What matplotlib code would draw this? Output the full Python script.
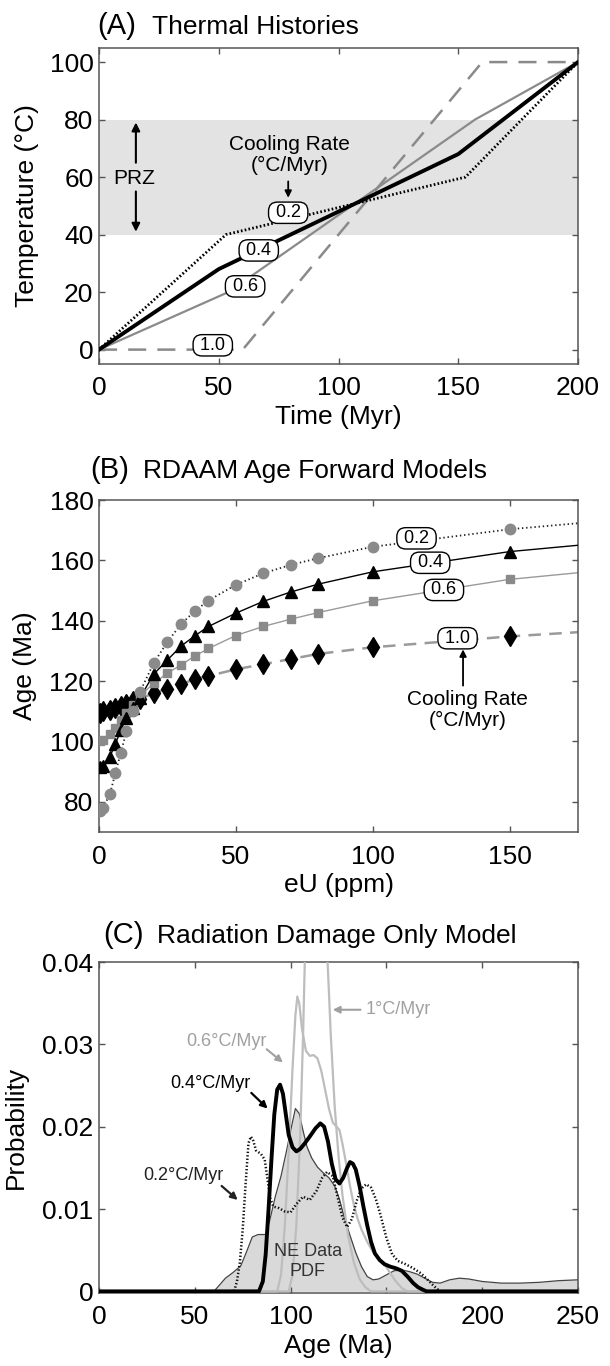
import matplotlib
matplotlib.use("Agg")
import matplotlib.pyplot as plt

plt.rcParams['font.family'] = ['Liberation Sans', 'DejaVu Sans']
plt.rcParams['lines.scale_dashes'] = False

# ---------------- Panel A data ----------------
time_02 = [0, 53, 153, 200]; temp_02 = [0, 40, 60, 100]
time_04 = [0, 50, 150, 200]; temp_04 = [0, 28, 68, 100]
time_06 = [0, 54, 157, 200]; temp_06 = [0, 20, 80, 100]
time_10 = [0, 60, 160, 200]; temp_10 = [0, 0, 100, 100]
prz_band = [40, 80]

# ---------------- Panel B data ----------------
eu = [0.5, 1.5, 4, 6, 8, 10, 12.5, 15, 20, 25, 30, 35, 40, 50, 60, 70, 80, 100, 150]
age_02 = [76.8, 78.0, 82.6, 89.6, 96.3, 103.3, 110.0, 116.5, 126.0, 133.0, 138.9, 143.2, 146.7, 151.9, 155.7, 158.5, 160.7, 164.5, 170.3]
age_04 = [91.4, 91.8, 95.0, 99.2, 103.8, 107.7, 111.0, 114.5, 122.3, 127.0, 131.6, 135.0, 138.1, 142.5, 146.4, 149.5, 152.1, 156.2, 162.9]
age_06 = [100.0, 100.5, 102.5, 104.5, 107.0, 109.5, 112.0, 115.0, 119.3, 122.6, 125.4, 128.3, 130.8, 135.1, 138.1, 140.5, 142.7, 146.6, 153.7]
age_10 = [109.5, 110.0, 110.5, 111.0, 111.7, 112.5, 113.3, 114.2, 116.0, 117.4, 119.0, 120.6, 121.7, 123.9, 125.6, 127.3, 129.0, 131.2, 134.8]
eu_end = 175
end_02, end_04, end_06, end_10 = 172.3, 165.0, 155.9, 136.2

# ---------------- Panel C data ----------------
ne_age = [0, 60, 63, 66, 70, 74, 77, 80, 83, 87, 89, 92, 95, 98, 100, 102.5, 104.5, 106.5, 108.5, 111, 114, 117, 120, 123,
          125.5, 128, 131, 134, 137, 140, 143, 146, 150, 154, 158, 162, 166, 170, 174, 178, 183, 188, 193, 200, 210, 220,
          230, 240, 250]
ne_prob = [0, 0, 0.0008, 0.0016, 0.0023, 0.0031, 0.0048, 0.0066, 0.0069, 0.0069, 0.0085, 0.0115, 0.0140, 0.0172, 0.0195,
           0.0222, 0.0216, 0.0195, 0.0176, 0.0162, 0.0151, 0.0144, 0.0138, 0.0128, 0.0112, 0.0090, 0.0068, 0.0047,
           0.0030, 0.0018, 0.0014, 0.0015, 0.0020, 0.0025, 0.0026, 0.0024, 0.0021, 0.0016, 0.0011, 0.0010, 0.0014,
           0.0016, 0.0015, 0.0012, 0.0010, 0.0010, 0.0011, 0.0013, 0.0014]

c02_age = [0, 70.5, 72, 73.5, 75, 76.5, 78, 79.3, 80.5, 82, 84.5, 86.5, 88, 89.5, 91, 94, 97, 100, 103, 106.5, 110, 113.5,
           116.5, 119, 122, 124.5, 127, 129.5, 132, 134.5, 137, 139.5, 142, 144.5, 147, 150, 153, 156, 160, 164, 168, 172,
           175, 178, 250]
c02_prob = [0, 0, 0.0012, 0.0035, 0.0075, 0.0130, 0.0180, 0.0188, 0.0183, 0.0171, 0.0167, 0.0160, 0.0135, 0.0112, 0.0103,
            0.0101, 0.0097, 0.0096, 0.0106, 0.0115, 0.0111, 0.0122, 0.0138, 0.0145, 0.0140, 0.0115, 0.0090, 0.0078,
            0.0088, 0.0110, 0.0125, 0.0130, 0.0126, 0.0112, 0.0092, 0.0065, 0.0045, 0.0037, 0.0033, 0.0028, 0.0022,
            0.0013, 0.0006, 0, 0]

c04_age = [0, 83.5, 85.5, 87, 88.5, 90, 91.5, 93, 94.5, 96, 97.5, 99, 101, 103, 105, 107.5, 110, 113, 115.5, 117.5, 119.5,
           121.5, 123.5, 125.5, 127.5, 129.5, 131, 132.5, 134, 136, 138, 140, 142, 144, 146.5, 149, 152, 155, 158, 161,
           164, 166.5, 169, 171, 250]
c04_prob = [0, 0, 0.0012, 0.0045, 0.0100, 0.0160, 0.0215, 0.0245, 0.0251, 0.0240, 0.0215, 0.0190, 0.0175, 0.0170, 0.0173,
            0.0180, 0.0188, 0.0198, 0.0204, 0.0200, 0.0182, 0.0155, 0.0136, 0.0131, 0.0138, 0.0150, 0.0157, 0.0155,
            0.0148, 0.0128, 0.0103, 0.0080, 0.0060, 0.0046, 0.0038, 0.0033, 0.0030, 0.0028, 0.0025, 0.0018, 0.0010,
            0.0005, 0.0002, 0, 0]

c06_age = [0, 93, 95, 97, 99, 101, 102.5, 103.5, 104.5, 106, 108, 110, 112, 114, 116, 118, 120, 122, 124, 125.5, 127, 129,
           131, 133, 135, 137, 140, 143, 146, 149, 152, 155, 158, 161, 250]
c06_prob = [0, 0, 0.002, 0.008, 0.017, 0.027, 0.0335, 0.0358, 0.0350, 0.0318, 0.0292, 0.0286, 0.0287, 0.0283, 0.0268,
            0.0245, 0.0222, 0.0205, 0.0200, 0.0196, 0.0180, 0.0155, 0.0128, 0.0105, 0.0088, 0.0075, 0.0060, 0.0048,
            0.0040, 0.0033, 0.0022, 0.0012, 0.0004, 0, 0]

c10_age = [0, 99, 101, 103, 105, 106.5, 107.5, 109, 112, 115, 118, 119.5, 121, 123, 125, 127, 130, 133, 136, 139, 142, 250]
c10_prob = [0, 0, 0.002, 0.008, 0.019, 0.031, 0.041, 0.05, 0.056, 0.054, 0.046, 0.039, 0.031, 0.0225, 0.0165, 0.0118,
            0.0068, 0.0035, 0.0015, 0.0005, 0, 0]

W, H = 610, 1366
fig = plt.figure(figsize=(W / 100, H / 100), dpi=100)


def rect(left, top, right, bottom):
    return [left / W, 1 - bottom / H, (right - left) / W, (bottom - top) / H]


def px(x, y):
    return (x / W, 1 - y / H)


TICK = 19
SPINE = '#555555'


def style(ax):
    for s in ax.spines.values():
        s.set_color(SPINE)
        s.set_linewidth(1.1)
    ax.tick_params(direction='in', top=True, right=True, length=4, width=1, color=SPINE,
                   labelsize=TICK)
    ax.tick_params(axis='x', pad=9)
    ax.tick_params(axis='y', pad=4)


boxkw = dict(boxstyle='round,pad=0.12,rounding_size=0.5', fc='white', ec='black', lw=1.0)
BOXFS = 13

# ================= Panel A =================
axA = fig.add_axes(rect(99, 47.7, 578, 364))
style(axA)
axA.axhspan(prz_band[0], prz_band[1], color='#e3e3e3', lw=0, zorder=0)
axA.plot(time_10, temp_10, color='#8a8a8a', lw=1.8, dashes=(13, 8), zorder=2)
axA.plot(time_06, temp_06, color='#8a8a8a', lw=1.6, zorder=3)
axA.plot(time_02, temp_02, color='black', lw=2.0, ls=(0, (1.2, 1.6)), zorder=4)
axA.plot(time_04, temp_04, color='black', lw=2.8, zorder=5)
axA.set_xlim(0, 200)
axA.set_ylim(-5, 105)
axA.set_xticks([0, 50, 100, 150, 200])
axA.set_yticks([0, 20, 40, 60, 80, 100])
axA.set_xlabel('Time (Myr)', fontsize=TICK, labelpad=3)
axA.set_ylabel('Temperature (°C)', fontsize=TICK)
axA.yaxis.set_label_coords(-0.125, 0.5)
axA.text(14.5, 59.6, 'PRZ', fontsize=15, ha='center', va='center')
axA.annotate('', xy=(15.4, 79), xytext=(15.4, 65),
             arrowprops=dict(arrowstyle='-|>', color='black', lw=1.5, mutation_scale=12, shrinkA=0, shrinkB=0))
axA.annotate('', xy=(15.4, 41), xytext=(15.4, 55),
             arrowprops=dict(arrowstyle='-|>', color='black', lw=1.5, mutation_scale=12, shrinkA=0, shrinkB=0))
axA.text(79.5, 67.8, 'Cooling Rate\n(°C/Myr)', fontsize=15, ha='center', va='center', linespacing=1.15)
axA.annotate('', xy=(79, 52.8), xytext=(79, 58.5),
             arrowprops=dict(arrowstyle='-|>', color='black', lw=1.3, mutation_scale=10, shrinkA=0, shrinkB=0))
for lab, x, y in [('0.2', 79, 47.6), ('0.4', 66.7, 34.5), ('0.6', 61, 22), ('1.0', 47.5, 1.5)]:
    axA.text(x, y, ' ' + lab + ' ', fontsize=BOXFS, ha='center', va='center', bbox=boxkw, zorder=10)

fig.text(*px(97, 34), '(A)', fontsize=21, va='baseline', ha='left')
fig.text(*px(152, 34), 'Thermal Histories', fontsize=19, va='baseline', ha='left')

# ================= Panel B =================
axB = fig.add_axes(rect(99, 500, 578, 832))
style(axB)
GRAYM = '#8a8a8a'
axB.plot(eu + [eu_end], age_10 + [end_10], color='#9a9a9a', lw=1.8, dashes=(9, 6), zorder=2)
axB.plot(eu + [eu_end], age_06 + [end_06], color='#9a9a9a', lw=1.0, zorder=2)
axB.plot(eu + [eu_end], age_04 + [end_04], color='black', lw=1.0, zorder=3)
axB.plot(eu + [eu_end], age_02 + [end_02], color='#222222', lw=1.3, ls=(0, (1, 2)), zorder=3)
axB.plot(eu, age_10, ls='none', marker='d', ms=10, color='black', zorder=4)
axB.plot(eu, age_06, ls='none', marker='s', ms=6, color=GRAYM, zorder=4)
axB.plot(eu, age_04, ls='none', marker='^', ms=8, color='black', zorder=5)
axB.plot(eu, age_02, ls='none', marker='o', ms=7.5, color=GRAYM, mec=GRAYM, zorder=5)
axB.set_xlim(0, 175)
axB.set_ylim(70, 180)
axB.set_xticks([0, 50, 100, 150])
axB.set_yticks([80, 100, 120, 140, 160, 180])
axB.set_xlabel('eU (ppm)', fontsize=TICK, labelpad=3)
axB.set_ylabel('Age (Ma)', fontsize=TICK)
axB.yaxis.set_label_coords(-0.129, 0.5)
for lab, x, y in [('0.2', 116, 167.3), ('0.4', 121, 159.2), ('0.6', 126, 150.2), ('1.0', 131, 134.2)]:
    axB.text(x, y, ' ' + lab + ' ', fontsize=BOXFS, ha='center', va='center', bbox=boxkw, zorder=10)
axB.text(134.6, 110.5, 'Cooling Rate\n(°C/Myr)', fontsize=15, ha='center', va='center', linespacing=1.15)
axB.annotate('', xy=(133, 130.5), xytext=(133, 118.5),
             arrowprops=dict(arrowstyle='-|>', color='black', lw=1.3, mutation_scale=10, shrinkA=0, shrinkB=0))

fig.text(*px(90, 478), '(B)', fontsize=21, va='baseline', ha='left')
fig.text(*px(143, 478), 'RDAAM Age Forward Models', fontsize=19, va='baseline', ha='left')

# ================= Panel C =================
axC = fig.add_axes(rect(99, 962, 578, 1293))
style(axC)
axC.fill_between(ne_age, ne_prob, 0, color='#d9d9d9', lw=0, zorder=1)
axC.plot(ne_age, ne_prob, color='#444444', lw=0.9, zorder=2)
axC.plot(c10_age, c10_prob, color='#bdbdbd', lw=1.6, zorder=3)
axC.plot(c06_age, c06_prob, color='#bdbdbd', lw=1.6, zorder=3)
axC.plot(c02_age, c02_prob, color='#111111', lw=1.8, ls=(0, (1, 1.5)), zorder=4)
axC.plot(c04_age, c04_prob, color='black', lw=2.8, zorder=5)
axC.set_xlim(0, 250)
axC.set_ylim(-0.0002, 0.04)
axC.set_xticks([0, 50, 100, 150, 200, 250])
axC.set_yticks([0, 0.01, 0.02, 0.03, 0.04])
axC.set_yticklabels(['0', '0.01', '0.02', '0.03', '0.04'])
axC.set_xlabel('Age (Ma)', fontsize=TICK, labelpad=3)
axC.set_ylabel('Probability', fontsize=TICK)
axC.yaxis.set_label_coords(-0.148, 0.5)

GT = '#a0a0a0'
axC.text(139, 0.0342, '1°C/Myr', fontsize=13, color=GT, ha='left', va='center')
axC.annotate('', xy=(122, 0.0342), xytext=(136.5, 0.0342),
             arrowprops=dict(arrowstyle='-|>', color=GT, lw=1.5, mutation_scale=10, shrinkA=0, shrinkB=0))
axC.text(87.5, 0.0303, '0.6°C/Myr', fontsize=13, color=GT, ha='right', va='center')
axC.annotate('', xy=(96, 0.0278), xytext=(87.5, 0.0294),
             arrowprops=dict(arrowstyle='-|>', color=GT, lw=1.5, mutation_scale=10, shrinkA=0, shrinkB=0))
axC.text(79, 0.0253, '0.4°C/Myr', fontsize=13, color='black', ha='right', va='center')
axC.annotate('', xy=(88, 0.0222), xytext=(79.5, 0.0241),
             arrowprops=dict(arrowstyle='-|>', color='black', lw=1.6, mutation_scale=10, shrinkA=0, shrinkB=0))
axC.text(65, 0.0141, '0.2°C/Myr', fontsize=13, color='#222222', ha='right', va='center')
axC.annotate('', xy=(72.4, 0.0111), xytext=(64, 0.0128),
             arrowprops=dict(arrowstyle='-|>', color='#222222', lw=1.6, mutation_scale=10, shrinkA=0, shrinkB=0))
axC.text(109, 0.0036, 'NE Data\nPDF', fontsize=13, color='#333333', ha='center', va='center', linespacing=1.2,
         zorder=6)

fig.text(*px(103, 943), '(C)', fontsize=21, va='baseline', ha='left')
fig.text(*px(157, 943), 'Radiation Damage Only Model', fontsize=19, va='baseline', ha='left')

fig.savefig('out.png', dpi=100)
